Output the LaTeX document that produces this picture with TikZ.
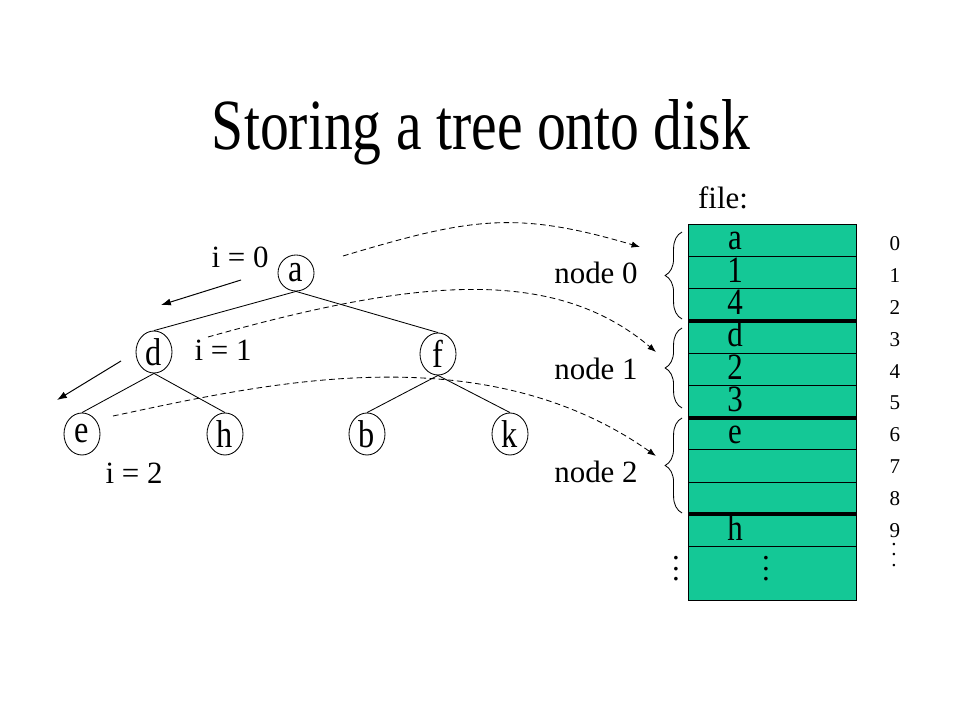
\documentclass[tikz,border=0pt]{standalone}
\usepackage{fontspec}
\setmainfont{Liberation Serif}
\usetikzlibrary{arrows.meta,positioning,shapes.geometric,decorations.pathreplacing}
\definecolor{diskgreen}{RGB}{20,200,150}
\newcommand{\tallvdots}{\vbox{\baselineskip=7.5pt\lineskiplimit=0pt\hbox{.}\hbox{.}\hbox{.}}}
\newcommand{\tall}[1]{\scalebox{1}[1.2]{#1}}

\begin{document}
\begin{tikzpicture}[x=0.025cm,y=-0.025cm,
  lbl/.style={inner sep=0pt,font=\fontsize{22}{26}\selectfont},
  tnode/.style={draw,ellipse,line width=0.6pt,inner sep=0pt,
    minimum width=0.9cm,minimum height=1.05cm,font=\fontsize{23}{26}\selectfont},
  tedge/.style={line width=0.6pt},
  walk/.style={line width=0.7pt,-{Latex[length=7pt,width=5pt]}},
  link/.style={line width=0.6pt,dash pattern=on 4pt off 2.5pt,-{Latex[length=6pt,width=4.5pt]}},
  cell/.style={draw,line width=0.5pt,fill=diskgreen,inner sep=0pt,outer sep=0pt,
    minimum width=4.2cm,minimum height=0.80675cm},
  sep/.style={line width=2.8pt},
  idx/.style={inner sep=0pt,anchor=base,font=\fontsize{15}{18}\selectfont},
  brace/.style={line width=0.6pt,decorate,decoration={brace,amplitude=12pt}}]
  \path[fill=white,use as bounding box] (0,0) rectangle (960,720);

  % title
  \node (title) [anchor=base] at (481,150)
    {\scalebox{1}[1.25]{\fontsize{41}{48}\selectfont Storing a tree onto disk}};

  % the tree
  \node[tnode,minimum height=0.9cm] (a) at (296,273) {\tall{a}};
  \node[tnode] (d) at (154,352) {\tall{d}};
  \node[tnode] (f) at (438,354) {\tall{f}};
  \node[tnode] (e) at (82,434)  {\tall{e}};
  \node[tnode] (h) at (225,434) {\tall{h}};
  \node[tnode] (b) at (367,434) {\tall{b}};
  \node[tnode] (k) at (510,434) {\tall{k}};
  \draw[tedge] (a.south) -- (d.north);
  \draw[tedge] (a.south) -- (f.north);
  \draw[tedge] (d.south) -- (e.north);
  \draw[tedge] (d.south) -- (h.north);
  \draw[tedge] (f.south) -- (b.north);
  \draw[tedge] (f.south) -- (k.north);

  % levels
  \node[lbl,anchor=base] (i0) at (240,268) {i = 0};
  \node[lbl,anchor=base] (i1) at (223,361) {i = 1};
  \node[lbl,anchor=base] (i2) at (134,484) {i = 2};
  \coordinate (s0) at (241,280);
  \coordinate (t0) at (161,305);
  \coordinate (s1) at (121,361);
  \coordinate (t1) at (57,400);
  \draw[walk] (s0) -- (t0);
  \draw[walk] (s1) -- (t1);

  % the file
  \node[lbl,anchor=base] (file) at (723,209) {file:};
  \foreach \v [count=\k from 0] in {a,1,4,d,2,3,e,{},{},h} {
    \node[cell] (c\k) at (772,240.1+32.27*\k) {};
    \node[lbl,anchor=base] (v\k) at (735,250+32.3*\k) {\tall{\v}};
    \node[idx] (idx\k) at (895,250.5+31.9*\k) {\k};
  }
  \node[cell,minimum height=1.3325cm] (c10) at (772,573.35) {};
  \foreach \k in {2,5,8}
    \draw[sep] (c\k.south west) -- (c\k.south east);
  \node[lbl] (cdots) at (766,569) {\tallvdots};
  \node[lbl] (ldots) at (676,569) {\tallvdots};
  \node[inner sep=0pt,font=\fontsize{15}{18}\selectfont] (idots) at (894,555) {\tallvdots};

  % nodes of the file
  \draw[brace] (682,319) -- (682,232);
  \draw[brace] (682,408) -- (682,328);
  \draw[brace] (682,513) -- (682,418);
  \node[lbl,anchor=base] (blk0) at (596,284) {node 0};
  \node[lbl,anchor=base] (blk1) at (596,380) {node 1};
  \node[lbl,anchor=base] (blk2) at (596,483) {node 2};

  % where each tree node goes
  \coordinate (from0) at (343,256);
  \coordinate (to0)   at (640,247);
  \coordinate (from1) at (208,337);
  \coordinate (to1)   at (656,352);
  \coordinate (from2) at (113,416);
  \coordinate (to2)   at (656,456);
  \draw[link] (from0) .. controls (470,218) and (515,210) .. (to0);
  \draw[link] (from1) .. controls (408,281) and (551,263) .. (to1);
  \draw[link] (from2) .. controls (260,385) and (480,332) .. (to2);
\end{tikzpicture}
\end{document}
